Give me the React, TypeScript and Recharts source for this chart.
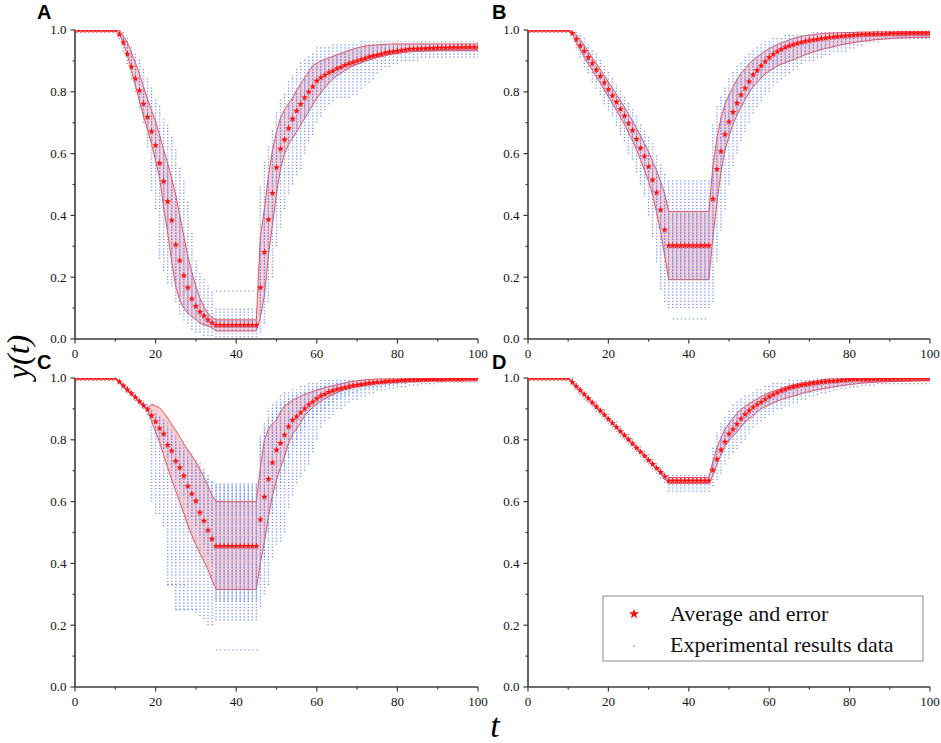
import React from 'react';
import { ComposedChart, Area, Line, Scatter, XAxis, YAxis, ZAxis, Symbols } from 'recharts';

// x categories: t = 0 .. 100
const T: number[] = Array.from({ length: 101 }, (_, i) => i);
const X_TICKS = [0, 10, 20, 30, 40, 50, 60, 70, 80, 90, 100];
const Y_TICKS = [0, 0.1, 0.2, 0.3, 0.4, 0.5, 0.6, 0.7, 0.8, 0.9, 1.0];

// ---------------- Panel A ----------------
const meanA = [
  1, 1, 1, 1, 1, 1, 1, 1, 1, 1,
  1, 0.985, 0.959, 0.922, 0.881, 0.843, 0.804, 0.761, 0.718, 0.672,
  0.627, 0.569, 0.51, 0.445, 0.384, 0.305, 0.254, 0.205, 0.166, 0.13,
  0.106, 0.088, 0.075, 0.062, 0.052, 0.045, 0.045, 0.045, 0.045, 0.045,
  0.045, 0.045, 0.045, 0.045, 0.045, 0.045, 0.166, 0.281, 0.386, 0.472,
  0.555, 0.615, 0.645, 0.682, 0.712, 0.738, 0.76, 0.781, 0.8, 0.817,
  0.835, 0.846, 0.854, 0.862, 0.868, 0.875, 0.88, 0.886, 0.891, 0.895,
  0.9, 0.904, 0.908, 0.913, 0.916, 0.919, 0.922, 0.926, 0.928, 0.93,
  0.932, 0.934, 0.936, 0.938, 0.939, 0.939, 0.94, 0.94, 0.941, 0.941,
  0.942, 0.942, 0.942, 0.943, 0.943, 0.943, 0.944, 0.944, 0.944, 0.944,
  0.944,
];
const hiA = [
  1, 1, 1, 1, 1, 1, 1, 1, 1, 1,
  1, 1, 0.98, 0.96, 0.928, 0.893, 0.858, 0.817, 0.776, 0.74,
  0.704, 0.66, 0.612, 0.568, 0.52, 0.466, 0.4, 0.333, 0.268, 0.216,
  0.17, 0.132, 0.105, 0.083, 0.07, 0.062, 0.062, 0.062, 0.062, 0.062,
  0.062, 0.062, 0.062, 0.062, 0.062, 0.062, 0.33, 0.42, 0.53, 0.61,
  0.67, 0.716, 0.742, 0.762, 0.78, 0.805, 0.826, 0.846, 0.866, 0.885,
  0.893, 0.9, 0.905, 0.91, 0.915, 0.92, 0.924, 0.929, 0.934, 0.938,
  0.942, 0.945, 0.948, 0.95, 0.951, 0.952, 0.953, 0.954, 0.954, 0.955,
  0.955, 0.955, 0.955, 0.955, 0.955, 0.955, 0.955, 0.955, 0.955, 0.955,
  0.955, 0.955, 0.955, 0.955, 0.955, 0.955, 0.955, 0.955, 0.955, 0.955,
  0.955,
];
const loA = [
  1, 1, 1, 1, 1, 1, 1, 1, 1, 1,
  1, 0.99, 0.955, 0.919, 0.87, 0.82, 0.77, 0.72, 0.677, 0.63,
  0.578, 0.52, 0.425, 0.343, 0.25, 0.17, 0.125, 0.1, 0.083, 0.072,
  0.063, 0.051, 0.046, 0.042, 0.036, 0.026, 0.026, 0.026, 0.026, 0.026,
  0.026, 0.026, 0.026, 0.026, 0.026, 0.026, 0.07, 0.14, 0.27, 0.37,
  0.47, 0.55, 0.6, 0.63, 0.65, 0.671, 0.692, 0.714, 0.736, 0.758,
  0.779, 0.796, 0.813, 0.829, 0.842, 0.852, 0.86, 0.869, 0.877, 0.884,
  0.889, 0.894, 0.899, 0.903, 0.907, 0.911, 0.914, 0.917, 0.92, 0.922,
  0.924, 0.926, 0.928, 0.929, 0.93, 0.931, 0.931, 0.932, 0.932, 0.932,
  0.933, 0.933, 0.933, 0.933, 0.933, 0.933, 0.933, 0.933, 0.933, 0.933,
  0.933,
];
const dataLoA = [
  1, 1, 1, 1, 1, 1, 1, 1, 1, 1,
  1, 0.97, 0.93, 0.89, 0.84, 0.8, 0.75, 0.7, 0.62, 0.48,
  0.42, 0.26, 0.22, 0.18, 0.17, 0.12, 0.08, 0.06, 0.05, 0.03,
  0.02, 0.02, 0.01, 0.01, 0.01, 0.005, 0.005, 0.005, 0.005, 0.005,
  0.005, 0.005, 0.005, 0.005, 0.005, 0.005, 0.02, 0.05, 0.12, 0.2,
  0.3, 0.36, 0.42, 0.47, 0.5, 0.53, 0.55, 0.6, 0.64, 0.66,
  0.7, 0.72, 0.74, 0.76, 0.77, 0.78, 0.78, 0.78, 0.78, 0.79,
  0.79, 0.81, 0.82, 0.83, 0.84, 0.86, 0.87, 0.88, 0.88, 0.89,
  0.89, 0.9, 0.9, 0.9, 0.9, 0.9, 0.91, 0.91, 0.91, 0.91,
  0.91, 0.91, 0.91, 0.91, 0.91, 0.91, 0.91, 0.91, 0.91, 0.91,
  0.91,
];
const dataHiA = [
  1, 1, 1, 1, 1, 1, 1, 1, 1, 1,
  1, 1, 1, 0.98, 0.95, 0.93, 0.91, 0.88, 0.85, 0.82,
  0.78, 0.76, 0.72, 0.7, 0.66, 0.62, 0.56, 0.52, 0.45, 0.35,
  0.26, 0.22, 0.2, 0.18, 0.16, 0.1, 0.1, 0.1, 0.1, 0.1,
  0.1, 0.1, 0.1, 0.1, 0.1, 0.1, 0.5, 0.58, 0.63, 0.68,
  0.74, 0.78, 0.8, 0.84, 0.86, 0.88, 0.9, 0.91, 0.92, 0.93,
  0.95, 0.95, 0.95, 0.95, 0.955, 0.96, 0.96, 0.96, 0.96, 0.96,
  0.96, 0.965, 0.965, 0.965, 0.965, 0.965, 0.965, 0.965, 0.965, 0.965,
  0.965, 0.965, 0.965, 0.965, 0.965, 0.965, 0.965, 0.965, 0.965, 0.965,
  0.965, 0.965, 0.965, 0.965, 0.965, 0.965, 0.965, 0.965, 0.965, 0.965,
  0.965,
];
const rowsA = [[0.155, 35, 45]];

// ---------------- Panel B ----------------
const meanB = [
  1, 1, 1, 1, 1, 1, 1, 1, 1, 1,
  1, 0.99, 0.97, 0.949, 0.932, 0.911, 0.892, 0.871, 0.851, 0.83,
  0.808, 0.788, 0.767, 0.744, 0.722, 0.698, 0.675, 0.647, 0.618, 0.591,
  0.558, 0.515, 0.474, 0.418, 0.353, 0.302, 0.302, 0.302, 0.302, 0.302,
  0.302, 0.302, 0.302, 0.302, 0.302, 0.302, 0.453, 0.55, 0.607, 0.662,
  0.703, 0.734, 0.763, 0.79, 0.811, 0.833, 0.855, 0.869, 0.884, 0.898,
  0.911, 0.921, 0.93, 0.937, 0.944, 0.949, 0.953, 0.957, 0.96, 0.963,
  0.966, 0.968, 0.97, 0.972, 0.974, 0.976, 0.977, 0.979, 0.98, 0.981,
  0.982, 0.983, 0.984, 0.985, 0.985, 0.986, 0.986, 0.987, 0.987, 0.987,
  0.988, 0.988, 0.988, 0.988, 0.988, 0.989, 0.989, 0.989, 0.989, 0.989,
  0.989,
];
const hiB = [
  1, 1, 1, 1, 1, 1, 1, 1, 1, 1,
  1, 0.995, 0.985, 0.968, 0.95, 0.93, 0.91, 0.892, 0.872, 0.852,
  0.832, 0.812, 0.792, 0.77, 0.75, 0.728, 0.706, 0.682, 0.657, 0.632,
  0.605, 0.575, 0.545, 0.51, 0.47, 0.413, 0.413, 0.413, 0.413, 0.413,
  0.413, 0.413, 0.413, 0.413, 0.413, 0.413, 0.56, 0.65, 0.715, 0.76,
  0.79, 0.815, 0.84, 0.86, 0.875, 0.89, 0.903, 0.913, 0.923, 0.932,
  0.94, 0.946, 0.953, 0.958, 0.963, 0.968, 0.973, 0.976, 0.979, 0.982,
  0.984, 0.985, 0.987, 0.988, 0.989, 0.99, 0.99, 0.991, 0.991, 0.992,
  0.992, 0.992, 0.993, 0.993, 0.993, 0.993, 0.994, 0.994, 0.994, 0.994,
  0.994, 0.994, 0.995, 0.995, 0.995, 0.995, 0.995, 0.995, 0.995, 0.995,
  0.995,
];
const loB = [
  1, 1, 1, 1, 1, 1, 1, 1, 1, 1,
  1, 0.99, 0.96, 0.935, 0.912, 0.89, 0.87, 0.848, 0.828, 0.806,
  0.784, 0.762, 0.74, 0.717, 0.694, 0.668, 0.642, 0.612, 0.58, 0.545,
  0.51, 0.465, 0.41, 0.345, 0.27, 0.192, 0.192, 0.192, 0.192, 0.192,
  0.192, 0.192, 0.192, 0.192, 0.192, 0.192, 0.33, 0.44, 0.54, 0.61,
  0.655, 0.695, 0.725, 0.75, 0.775, 0.797, 0.817, 0.83, 0.845, 0.858,
  0.867, 0.875, 0.883, 0.889, 0.894, 0.899, 0.903, 0.909, 0.914, 0.92,
  0.925, 0.929, 0.933, 0.937, 0.94, 0.943, 0.946, 0.949, 0.952, 0.955,
  0.957, 0.959, 0.961, 0.963, 0.965, 0.966, 0.968, 0.969, 0.97, 0.971,
  0.972, 0.973, 0.974, 0.974, 0.975, 0.975, 0.975, 0.976, 0.976, 0.976,
  0.976,
];
const dataLoB = [
  1, 1, 1, 1, 1, 1, 1, 1, 1, 1,
  1, 0.98, 0.94, 0.91, 0.88, 0.86, 0.83, 0.81, 0.79, 0.76,
  0.74, 0.72, 0.69, 0.66, 0.64, 0.6, 0.58, 0.54, 0.5, 0.46,
  0.4, 0.33, 0.25, 0.16, 0.12, 0.1, 0.1, 0.1, 0.1, 0.1,
  0.1, 0.1, 0.1, 0.1, 0.1, 0.1, 0.12, 0.25, 0.35, 0.42,
  0.5, 0.56, 0.6, 0.64, 0.67, 0.7, 0.73, 0.75, 0.77, 0.79,
  0.8, 0.82, 0.83, 0.84, 0.85, 0.86, 0.87, 0.88, 0.89, 0.9,
  0.9, 0.9, 0.91, 0.91, 0.92, 0.92, 0.93, 0.93, 0.93, 0.93,
  0.94, 0.94, 0.95, 0.95, 0.96, 0.96, 0.96, 0.96, 0.97, 0.97,
  0.97, 0.97, 0.97, 0.97, 0.97, 0.97, 0.97, 0.97, 0.97, 0.97,
  0.97,
];
const dataHiB = [
  1, 1, 1, 1, 1, 1, 1, 1, 1, 1,
  1, 1, 1, 0.99, 0.975, 0.96, 0.94, 0.925, 0.905, 0.89,
  0.87, 0.85, 0.83, 0.81, 0.79, 0.77, 0.75, 0.73, 0.7, 0.68,
  0.66, 0.64, 0.6, 0.57, 0.54, 0.52, 0.52, 0.52, 0.52, 0.52,
  0.52, 0.52, 0.52, 0.52, 0.52, 0.52, 0.7, 0.76, 0.79, 0.82,
  0.85, 0.87, 0.89, 0.9, 0.92, 0.93, 0.94, 0.95, 0.96, 0.965,
  0.97, 0.975, 0.975, 0.98, 0.985, 0.985, 0.99, 0.99, 0.99, 0.99,
  0.99, 0.995, 0.995, 0.995, 0.995, 0.995, 0.995, 0.995, 0.995, 0.995,
  0.995, 0.995, 0.995, 0.995, 0.995, 0.995, 0.995, 0.995, 0.995, 0.995,
  0.995, 0.995, 0.995, 0.995, 0.995, 0.995, 0.995, 0.995, 0.995, 0.995,
  0.995,
];
const rowsB = [[0.065, 36, 45]];

// ---------------- Panel C ----------------
const meanC = [
  1, 1, 1, 1, 1, 1, 1, 1, 1, 1,
  1, 0.988, 0.975, 0.962, 0.95, 0.937, 0.924, 0.911, 0.898, 0.878,
  0.859, 0.837, 0.819, 0.783, 0.764, 0.731, 0.71, 0.683, 0.65, 0.625,
  0.602, 0.564, 0.538, 0.507, 0.479, 0.456, 0.456, 0.456, 0.456, 0.456,
  0.456, 0.456, 0.456, 0.456, 0.456, 0.456, 0.542, 0.615, 0.673, 0.726,
  0.767, 0.789, 0.816, 0.843, 0.864, 0.875, 0.888, 0.901, 0.914, 0.923,
  0.933, 0.942, 0.948, 0.954, 0.959, 0.963, 0.966, 0.969, 0.972, 0.975,
  0.977, 0.979, 0.981, 0.983, 0.984, 0.986, 0.987, 0.988, 0.989, 0.99,
  0.991, 0.992, 0.992, 0.993, 0.993, 0.994, 0.994, 0.994, 0.995, 0.995,
  0.995, 0.995, 0.996, 0.996, 0.996, 0.996, 0.996, 0.997, 0.997, 0.997,
  0.997,
];
const hiC = [
  1, 1, 1, 1, 1, 1, 1, 1, 1, 1,
  1, 0.99, 0.978, 0.965, 0.953, 0.94, 0.927, 0.914, 0.9, 0.915,
  0.91, 0.903, 0.888, 0.87, 0.851, 0.83, 0.81, 0.787, 0.767, 0.748,
  0.728, 0.705, 0.678, 0.65, 0.62, 0.6, 0.6, 0.6, 0.6, 0.6,
  0.6, 0.6, 0.6, 0.6, 0.6, 0.6, 0.71, 0.8, 0.835, 0.852,
  0.864, 0.89, 0.91, 0.918, 0.928, 0.935, 0.941, 0.947, 0.952, 0.956,
  0.961, 0.965, 0.969, 0.972, 0.975, 0.978, 0.981, 0.984, 0.987, 0.989,
  0.991, 0.993, 0.994, 0.995, 0.996, 0.997, 0.997, 0.997, 0.997, 0.997,
  0.997, 0.997, 0.998, 0.998, 0.998, 0.998, 0.998, 0.998, 0.998, 0.998,
  0.998, 0.999, 0.999, 0.999, 0.999, 0.999, 0.999, 0.999, 0.999, 0.999,
  0.999,
];
const loC = [
  1, 1, 1, 1, 1, 1, 1, 1, 1, 1,
  1, 0.986, 0.972, 0.959, 0.947, 0.934, 0.921, 0.908, 0.896, 0.86,
  0.825, 0.792, 0.75, 0.71, 0.67, 0.635, 0.598, 0.562, 0.523, 0.49,
  0.46, 0.433, 0.407, 0.38, 0.345, 0.316, 0.316, 0.316, 0.316, 0.316,
  0.316, 0.316, 0.316, 0.316, 0.316, 0.316, 0.4, 0.47, 0.55, 0.62,
  0.67, 0.71, 0.745, 0.79, 0.818, 0.835, 0.855, 0.878, 0.893, 0.905,
  0.915, 0.925, 0.932, 0.94, 0.946, 0.952, 0.958, 0.962, 0.966, 0.969,
  0.972, 0.975, 0.977, 0.979, 0.981, 0.983, 0.984, 0.985, 0.986, 0.987,
  0.988, 0.989, 0.989, 0.99, 0.99, 0.99, 0.991, 0.991, 0.991, 0.992,
  0.992, 0.992, 0.992, 0.993, 0.993, 0.993, 0.993, 0.994, 0.994, 0.994,
  0.994,
];
const dataLoC = [
  1, 1, 1, 1, 1, 1, 1, 1, 1, 1,
  1, 0.98, 0.965, 0.95, 0.94, 0.925, 0.91, 0.9, 0.88, 0.6,
  0.56, 0.56, 0.52, 0.33, 0.33, 0.25, 0.25, 0.25, 0.25, 0.25,
  0.24, 0.23, 0.22, 0.2, 0.2, 0.215, 0.215, 0.215, 0.215, 0.215,
  0.215, 0.215, 0.215, 0.215, 0.215, 0.215, 0.26, 0.3, 0.33, 0.42,
  0.46, 0.47, 0.5, 0.58, 0.62, 0.66, 0.68, 0.7, 0.72, 0.76,
  0.8, 0.84, 0.86, 0.87, 0.88, 0.9, 0.9, 0.91, 0.92, 0.93,
  0.93, 0.94, 0.94, 0.95, 0.95, 0.96, 0.96, 0.96, 0.965, 0.965,
  0.97, 0.97, 0.97, 0.975, 0.975, 0.975, 0.98, 0.98, 0.98, 0.98,
  0.985, 0.985, 0.985, 0.985, 0.985, 0.985, 0.985, 0.985, 0.985, 0.985,
  0.985,
];
const dataHiC = [
  1, 1, 1, 1, 1, 1, 1, 1, 1, 1,
  1, 1, 0.985, 0.975, 0.96, 0.95, 0.935, 0.925, 0.915, 0.9,
  0.89, 0.88, 0.86, 0.84, 0.82, 0.8, 0.78, 0.77, 0.75, 0.73,
  0.72, 0.71, 0.7, 0.68, 0.67, 0.665, 0.665, 0.665, 0.665, 0.665,
  0.665, 0.665, 0.665, 0.665, 0.665, 0.665, 0.82, 0.86, 0.9, 0.92,
  0.93, 0.95, 0.96, 0.96, 0.965, 0.97, 0.975, 0.98, 0.985, 0.99,
  0.99, 0.995, 0.995, 0.995, 0.995, 0.995, 1, 1, 1, 1,
  1, 1, 1, 1, 1, 1, 1, 1, 1, 1,
  1, 1, 1, 1, 1, 1, 1, 1, 1, 1,
  1, 1, 1, 1, 1, 1, 1, 1, 1, 1,
  1,
];
const coreLoC = [
  1, 1, 1, 1, 1, 1, 1, 1, 1, 1,
  1, 0.986, 0.972, 0.959, 0.947, 0.934, 0.921, 0.908, 0.896, 0.86,
  0.83, 0.8, 0.77, 0.74, 0.71, 0.68, 0.65, 0.62, 0.58, 0.55,
  0.52, 0.49, 0.46, 0.43, 0.4, 0.28, 0.28, 0.28, 0.28, 0.28,
  0.28, 0.28, 0.28, 0.28, 0.28, 0.28, 0.35, 0.42, 0.5, 0.56,
  0.62, 0.66, 0.7, 0.74, 0.78, 0.8, 0.82, 0.84, 0.86, 0.87,
  0.88, 0.89, 0.9, 0.91, 0.92, 0.93, 0.935, 0.94, 0.945, 0.95,
  0.955, 0.96, 0.962, 0.965, 0.968, 0.97, 0.972, 0.975, 0.977, 0.98,
  0.98, 0.982, 0.983, 0.984, 0.985, 0.986, 0.986, 0.987, 0.987, 0.988,
  0.988, 0.989, 0.989, 0.99, 0.99, 0.99, 0.991, 0.991, 0.992, 0.992,
  0.992,
];
const coreHiC = [
  1, 1, 1, 1, 1, 1, 1, 1, 1, 1,
  1, 0.99, 0.978, 0.965, 0.953, 0.94, 0.927, 0.914, 0.9, 0.9,
  0.89, 0.88, 0.87, 0.86, 0.84, 0.82, 0.8, 0.79, 0.77, 0.76,
  0.74, 0.73, 0.71, 0.69, 0.67, 0.66, 0.66, 0.66, 0.66, 0.66,
  0.66, 0.66, 0.66, 0.66, 0.66, 0.66, 0.8, 0.84, 0.87, 0.89,
  0.91, 0.92, 0.93, 0.94, 0.945, 0.95, 0.955, 0.96, 0.965, 0.97,
  0.975, 0.978, 0.98, 0.982, 0.985, 0.987, 0.989, 0.99, 0.991, 0.992,
  0.993, 0.995, 0.995, 0.995, 0.995, 0.995, 0.996, 0.996, 0.996, 0.996,
  0.996, 0.997, 0.997, 0.997, 0.997, 0.997, 0.997, 0.997, 0.997, 0.997,
  0.997, 0.998, 0.998, 0.998, 0.998, 0.998, 0.998, 0.998, 0.998, 0.998,
  0.998,
];
const rowsC = [[0.12, 35, 46], [0.33, 23, 28], [0.25, 25, 31]];

// ---------------- Panel D ----------------
const meanD = [
  1, 1, 1, 1, 1, 1, 1, 1, 1, 1,
  1, 0.987, 0.973, 0.96, 0.947, 0.934, 0.92, 0.907, 0.894, 0.881,
  0.867, 0.854, 0.841, 0.827, 0.814, 0.801, 0.788, 0.774, 0.761, 0.748,
  0.734, 0.721, 0.708, 0.695, 0.681, 0.667, 0.667, 0.667, 0.667, 0.667,
  0.667, 0.667, 0.667, 0.667, 0.667, 0.667, 0.702, 0.737, 0.767, 0.793,
  0.819, 0.834, 0.851, 0.868, 0.882, 0.894, 0.905, 0.914, 0.922, 0.931,
  0.94, 0.946, 0.953, 0.959, 0.963, 0.968, 0.971, 0.974, 0.977, 0.979,
  0.981, 0.983, 0.985, 0.987, 0.988, 0.989, 0.99, 0.991, 0.992, 0.993,
  0.994, 0.995, 0.995, 0.995, 0.995, 0.995, 0.996, 0.996, 0.996, 0.996,
  0.996, 0.997, 0.997, 0.997, 0.997, 0.997, 0.998, 0.998, 0.998, 0.998,
  0.998,
];
const hiD = [
  1, 1, 1, 1, 1, 1, 1, 1, 1, 1,
  1, 0.99, 0.977, 0.964, 0.951, 0.938, 0.924, 0.911, 0.898, 0.885,
  0.871, 0.858, 0.845, 0.831, 0.818, 0.805, 0.792, 0.778, 0.765, 0.752,
  0.739, 0.726, 0.713, 0.7, 0.687, 0.678, 0.678, 0.678, 0.678, 0.678,
  0.678, 0.678, 0.678, 0.678, 0.678, 0.678, 0.73, 0.775, 0.805, 0.835,
  0.853, 0.87, 0.887, 0.898, 0.908, 0.917, 0.925, 0.932, 0.94, 0.947,
  0.953, 0.957, 0.961, 0.966, 0.971, 0.975, 0.978, 0.981, 0.984, 0.986,
  0.988, 0.99, 0.992, 0.994, 0.996, 0.997, 0.997, 0.997, 0.998, 0.998,
  0.998, 0.998, 0.998, 0.998, 0.999, 0.999, 0.999, 0.999, 0.999, 0.999,
  0.999, 0.999, 0.999, 0.999, 0.999, 0.999, 0.999, 0.999, 0.999, 0.999,
  0.999,
];
const loD = [
  1, 1, 1, 1, 1, 1, 1, 1, 1, 1,
  1, 0.984, 0.969, 0.956, 0.943, 0.93, 0.916, 0.903, 0.89, 0.877,
  0.863, 0.85, 0.837, 0.823, 0.81, 0.797, 0.784, 0.77, 0.757, 0.744,
  0.73, 0.717, 0.704, 0.691, 0.676, 0.659, 0.659, 0.659, 0.659, 0.659,
  0.659, 0.659, 0.659, 0.659, 0.659, 0.659, 0.685, 0.72, 0.752, 0.78,
  0.797, 0.812, 0.826, 0.842, 0.858, 0.868, 0.878, 0.89, 0.9, 0.907,
  0.913, 0.919, 0.925, 0.93, 0.934, 0.938, 0.941, 0.945, 0.949, 0.953,
  0.956, 0.959, 0.962, 0.964, 0.967, 0.969, 0.971, 0.973, 0.975, 0.977,
  0.979, 0.98, 0.982, 0.983, 0.984, 0.985, 0.986, 0.987, 0.987, 0.988,
  0.988, 0.989, 0.989, 0.989, 0.99, 0.99, 0.99, 0.99, 0.991, 0.991,
  0.991,
];
const dataLoD = [
  1, 1, 1, 1, 1, 1, 1, 1, 1, 1,
  1, 0.975, 0.96, 0.945, 0.93, 0.92, 0.905, 0.89, 0.88, 0.865,
  0.85, 0.84, 0.825, 0.81, 0.8, 0.785, 0.77, 0.76, 0.745, 0.73,
  0.72, 0.705, 0.69, 0.675, 0.66, 0.632, 0.632, 0.632, 0.632, 0.632,
  0.632, 0.632, 0.632, 0.632, 0.632, 0.632, 0.65, 0.67, 0.69, 0.72,
  0.74, 0.76, 0.77, 0.79, 0.8, 0.82, 0.84, 0.85, 0.86, 0.87,
  0.88, 0.89, 0.9, 0.9, 0.91, 0.91, 0.92, 0.92, 0.93, 0.93,
  0.94, 0.94, 0.945, 0.95, 0.95, 0.955, 0.96, 0.96, 0.965, 0.965,
  0.97, 0.97, 0.97, 0.975, 0.975, 0.975, 0.975, 0.98, 0.98, 0.98,
  0.98, 0.98, 0.98, 0.98, 0.98, 0.98, 0.98, 0.98, 0.98, 0.98,
  0.98,
];
const dataHiD = [
  1, 1, 1, 1, 1, 1, 1, 1, 1, 1,
  1, 1, 0.99, 0.975, 0.96, 0.95, 0.935, 0.925, 0.91, 0.9,
  0.885, 0.87, 0.86, 0.845, 0.83, 0.82, 0.805, 0.79, 0.78, 0.765,
  0.755, 0.74, 0.73, 0.715, 0.7, 0.69, 0.69, 0.69, 0.69, 0.69,
  0.69, 0.69, 0.69, 0.69, 0.69, 0.69, 0.78, 0.83, 0.86, 0.88,
  0.9, 0.92, 0.93, 0.94, 0.945, 0.95, 0.96, 0.965, 0.97, 0.975,
  0.98, 0.985, 0.985, 0.99, 0.99, 0.995, 0.995, 0.995, 1, 1,
  1, 1, 1, 1, 1, 1, 1, 1, 1, 1,
  1, 1, 1, 1, 1, 1, 1, 1, 1, 1,
  1, 1, 1, 1, 1, 1, 1, 1, 1, 1,
  1,
];
const rowsD: number[][] = [];

// ---------------- styling ----------------
const AXIS = '#3c3c3c';
const SERIF = "'Liberation Serif', 'Times New Roman', Times, serif";
const SANS = "'Liberation Sans', Arial, Helvetica, sans-serif";
const BLUE = '#6486f4';

type Seg = { t: number; y: number | null };

function columns(lo: number[], hi: number[]): Seg[] {
  const out: Seg[] = [];
  T.forEach((t, i) => {
    if (hi[i] - lo[i] > 0.002) {
      out.push({ t, y: lo[i] }, { t, y: hi[i] }, { t, y: null });
    }
  });
  return out;
}

function rowSegs(rows: number[][]): Seg[] {
  const out: Seg[] = [];
  rows.forEach(([y, x0, x1]) => {
    out.push({ t: x0, y }, { t: x1, y }, { t: x1, y: null });
  });
  return out;
}

function XTick(props: any) {
  const { x, y, payload } = props;
  const v = Number(payload.value);
  const major = Math.round(v) % 20 === 0;
  return (
    <g>
      <line x1={x} x2={x} y1={y} y2={y + (major ? 4.5 : 2.5)} stroke={AXIS} strokeWidth={1.2} />
      {major ? (
        <text x={x} y={y + 18.5} textAnchor="middle" fontFamily={SERIF} style={{ fontFamily: SERIF }}
          fontSize={13} fill="#111">
          {v}
        </text>
      ) : null}
    </g>
  );
}

function YTick(props: any) {
  const { x, y, payload } = props;
  const v = Number(payload.value);
  const major = Math.round(v * 10) % 2 === 0;
  return (
    <g>
      <line x1={x - (major ? 4.5 : 2.5)} x2={x} y1={y} y2={y} stroke={AXIS} strokeWidth={1.2} />
      {major ? (
        <text x={x - 8.5} y={y + 4.4} textAnchor="end" fontFamily={SERIF} style={{ fontFamily: SERIF }}
          fontSize={13} fill="#111">
          {v.toFixed(1)}
        </text>
      ) : null}
    </g>
  );
}

type PanelProps = {
  mean: number[];
  lo: number[];
  hi: number[];
  dLo: number[];
  dHi: number[];
  cLo: number[];
  cHi: number[];
  rows: number[][];
  left: number;
  top: number;
  width: number;
  mLeft: number;
  mRight: number;
  unitPx: number;
};

function Panel(p: PanelProps) {
  const data = T.map((t, i) => ({ t, mean: p.mean[i], band: [p.lo[i], p.hi[i]] }));
  const sparse = columns(p.dLo, p.dHi);
  const core = columns(p.cLo, p.cHi);
  const rows = rowSegs(p.rows);
  return (
    <div style={{ position: 'absolute', left: p.left, top: p.top }}>
      <ComposedChart
        width={p.width}
        height={360}
        data={data}
        margin={{ top: 30, right: p.mRight, bottom: 1, left: p.mLeft }}
      >
        <XAxis
          dataKey="t"
          type="number"
          domain={[0, 100]}
          ticks={X_TICKS}
          interval={0}
          allowDataOverflow
          tickLine={false}
          tickSize={0}
          tickMargin={0}
          tick={(tp: any) => <XTick {...tp} />}
          axisLine={{ stroke: AXIS, strokeWidth: 1.6 }}
          height={20}
        />
        <YAxis
          type="number"
          domain={[0, 1]}
          ticks={Y_TICKS}
          interval={0}
          allowDataOverflow
          tickLine={false}
          tickSize={0}
          tickMargin={0}
          tick={(tp: any) => <YTick {...tp} />}
          axisLine={{ stroke: AXIS, strokeWidth: 1.6 }}
          width={40}
        />
        <ZAxis range={[15, 15]} />
        <Area
          dataKey="band"
          type="linear"
          fill="#fbd0d2"
          fillOpacity={1}
          stroke="none"
          isAnimationActive={false}
          dot={false}
          activeDot={false}
        />
        <Line
          data={sparse}
          dataKey="y"
          type="linear"
          stroke={BLUE}
          strokeOpacity={0.85}
          strokeWidth={1.4}
          strokeDasharray="1.2 1.89"
          dot={false}
          activeDot={false}
          connectNulls={false}
          isAnimationActive={false}
        />
        <Line
          data={core}
          dataKey="y"
          type="linear"
          stroke={BLUE}
          strokeOpacity={0.7}
          strokeWidth={1.2}
          strokeDasharray="2 1.09"
          dot={false}
          activeDot={false}
          connectNulls={false}
          isAnimationActive={false}
        />
        <Line
          data={rows}
          dataKey="y"
          type="linear"
          stroke={BLUE}
          strokeOpacity={0.85}
          strokeWidth={1.4}
          strokeDasharray={`1.2 ${p.unitPx - 1.2}`}
          dot={false}
          activeDot={false}
          connectNulls={false}
          isAnimationActive={false}
        />
        <Area
          dataKey="band"
          type="linear"
          fill="none"
          stroke="#f03c3c"
          strokeWidth={0.9}
          isAnimationActive={false}
          dot={false}
          activeDot={false}
        />
        <Scatter data={data} dataKey="mean" shape="star" fill="#ff1010" isAnimationActive={false} />
      </ComposedChart>
    </div>
  );
}

export default function App() {
  return (
    <div style={{ position: 'absolute', left: 0, top: 0, width: 941, height: 743, background: '#fff' }}>
      <Panel mean={meanA} lo={loA} hi={hiA} dLo={dataLoA} dHi={dataHiA} cLo={loA} cHi={hiA} rows={rowsA}
        left={0} top={0} width={490} mLeft={35} mRight={12} unitPx={4.03} />
      <Panel mean={meanB} lo={loB} hi={hiB} dLo={dataLoB} dHi={dataHiB} cLo={loB} cHi={hiB} rows={rowsB}
        left={450} top={0} width={491} mLeft={38} mRight={11} unitPx={4.02} />
      <Panel mean={meanC} lo={loC} hi={hiC} dLo={dataLoC} dHi={dataHiC} cLo={coreLoC} cHi={coreHiC} rows={rowsC}
        left={0} top={348} width={490} mLeft={35} mRight={12} unitPx={4.03} />
      <Panel mean={meanD} lo={loD} hi={hiD} dLo={dataLoD} dHi={dataHiD} cLo={loD} cHi={hiD} rows={rowsD}
        left={450} top={348} width={491} mLeft={38} mRight={11} unitPx={4.02} />
      <svg width={941} height={743} style={{ position: 'absolute', left: 0, top: 0, pointerEvents: 'none' }}>
        <text x={37} y={18.5} fontFamily={SANS} fontWeight="bold" fontSize={20} fill="#000">A</text>
        <text x={492} y={18.5} fontFamily={SANS} fontWeight="bold" fontSize={20} fill="#000">B</text>
        <text x={37} y={368.5} fontFamily={SANS} fontWeight="bold" fontSize={20} fill="#000">C</text>
        <text x={492} y={368.5} fontFamily={SANS} fontWeight="bold" fontSize={20} fill="#000">D</text>
        <text transform="translate(28.5,357) rotate(-90)" textAnchor="middle" fontFamily={SERIF}
          fontStyle="italic" fontSize={32} fill="#000">y(t)</text>
        <text x={495} y={737} textAnchor="middle" fontFamily={SERIF} fontStyle="italic" fontSize={34} fill="#000">t</text>
        <rect x={603} y={596} width={320} height={65} fill="#fff" stroke="#8a8a8a" strokeWidth={1} />
        <Symbols cx={634} cy={614} type="star" size={34} fill="#ff1010" />
        <circle cx={634} cy={646} r={1} fill="#9fb2f5" />
        <text x={670} y={621} fontFamily={SERIF} fontSize={22} fill="#111">Average and error</text>
        <text x={670} y={652} fontFamily={SERIF} fontSize={22} fill="#111">Experimental results data</text>
      </svg>
    </div>
  );
}
